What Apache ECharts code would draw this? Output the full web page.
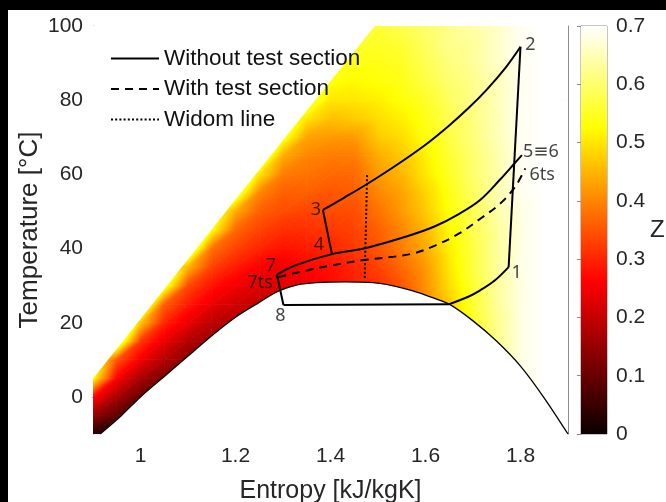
<!DOCTYPE html>
<html><head><meta charset="utf-8">
<script src="https://cdn.jsdelivr.net/npm/echarts@6/dist/echarts.min.js"></script>
<style>
html,body{margin:0;padding:0;background:#000;}
#wrap{position:relative;width:666px;height:502px;background:#000;overflow:hidden}
#chart{position:absolute;left:8px;top:10px;width:658px;height:492px;background:#fff}
</style></head><body><div id="wrap"><div id="chart"></div></div>
<script>
// ---------- data ----------
const xTicks = [1, 1.2, 1.4, 1.6, 1.8];
const yTicks = [0, 20, 40, 60, 80, 100];
const zTicks = [0, 0.1, 0.2, 0.3, 0.4, 0.5, 0.6, 0.7];

// Z field samples: entropy columns x temperature rows (-10 ... 100 step 5)
const sCols = [0.90,0.95,1.00,1.05,1.10,1.15,1.20,1.25,1.30,1.35,1.40,1.45,1.50,1.55,1.60,1.65,1.70,1.75,1.80,1.85,1.90];
const tRows = [-10,-5,0,5,10,15,20,25,30,35,40,45,50,55,60,65,70,75,80,85,90,95,100];
const zCols = [
 [.03,.15,.27,.53,.56,.56,.56,.56,.56,.56,.56,.56,.56,.56,.56,.56,.56,.56,.56,.56,.56,.56,.56], // 0.90
 [.07,.09,.17,.26,.35,.64,.56,.56,.56,.56,.56,.56,.56,.56,.56,.56,.56,.56,.56,.56,.56,.56,.56], // 0.95
 [.10,.10,.10,.17,.25,.32,.47,.66,.56,.56,.56,.56,.56,.56,.56,.56,.56,.56,.56,.56,.56,.56,.56], // 1.00
 [.12,.12,.12,.12,.18,.24,.30,.36,.57,.56,.56,.56,.56,.56,.56,.56,.56,.56,.56,.56,.56,.56,.56], // 1.05
 [.14,.14,.14,.14,.14,.18,.24,.29,.34,.45,.64,.56,.56,.56,.56,.56,.56,.56,.56,.56,.56,.56,.56], // 1.10
 [.16,.16,.16,.16,.16,.16,.19,.24,.28,.33,.38,.53,.58,.56,.56,.56,.56,.56,.56,.56,.56,.56,.56], // 1.15
 [.18,.18,.18,.18,.18,.18,.18,.21,.25,.29,.33,.37,.44,.59,.56,.56,.56,.56,.56,.56,.56,.56,.56], // 1.20
 [.20,.20,.20,.20,.20,.20,.20,.20,.23,.26,.30,.33,.36,.40,.50,.62,.56,.56,.56,.56,.56,.56,.56], // 1.25
 [.22,.22,.22,.22,.22,.22,.22,.22,.23,.25,.28,.31,.34,.36,.39,.44,.55,.56,.56,.56,.56,.56,.56], // 1.30
 [.25,.25,.25,.25,.25,.25,.25,.25,.25,.27,.29,.31,.33,.36,.38,.40,.43,.50,.58,.56,.56,.56,.56], // 1.35
 [.27,.27,.27,.27,.27,.27,.27,.27,.27,.28,.30,.32,.34,.35,.37,.39,.42,.46,.50,.53,.56,.56,.56], // 1.40
 [.29,.29,.29,.29,.29,.29,.29,.29,.29,.30,.32,.33,.34,.36,.37,.39,.42,.47,.50,.52,.54,.56,.56], // 1.45
 [.31,.31,.31,.31,.31,.31,.31,.31,.31,.33,.35,.36,.38,.40,.42,.44,.47,.49,.51,.53,.54,.55,.56], // 1.50
 [.34,.34,.34,.34,.34,.34,.34,.34,.35,.37,.39,.40,.42,.43,.45,.47,.49,.51,.53,.54,.55,.56,.58], // 1.55
 [.40,.40,.40,.40,.40,.40,.40,.40,.41,.42,.44,.45,.47,.48,.50,.51,.53,.54,.55,.57,.58,.59,.60], // 1.60
 [.47,.47,.47,.47,.47,.47,.47,.47,.49,.50,.51,.52,.53,.54,.55,.56,.57,.58,.59,.60,.61,.62,.62], // 1.65
 [.55,.55,.55,.55,.55,.55,.55,.56,.56,.57,.57,.58,.58,.59,.60,.60,.61,.61,.62,.62,.63,.63,.64], // 1.70
 [.62,.62,.62,.62,.62,.62,.62,.63,.63,.63,.63,.63,.64,.64,.64,.64,.65,.65,.65,.65,.66,.66,.66], // 1.75
 [.68,.68,.68,.68,.68,.68,.68,.68,.68,.68,.68,.68,.68,.69,.69,.69,.69,.69,.69,.69,.69,.69,.69], // 1.80
 [.70,.70,.70,.70,.70,.70,.70,.70,.70,.70,.70,.70,.70,.70,.70,.70,.70,.70,.70,.70,.70,.70,.70], // 1.85
 [.70,.70,.70,.70,.70,.70,.70,.70,.70,.70,.70,.70,.70,.70,.70,.70,.70,.70,.70,.70,.70,.70,.70]  // 1.90
];

// upper-left limit of the coloured region
const topS = [0.90, 1.20, 1.492];
const topT = [5.1, 53.4, 100];

// saturation dome
const satS = [0.915,0.96,1.00,1.05,1.10,1.15,1.20,1.25,1.29,1.33,1.37,1.43,1.49,1.53,1.57,1.61,1.65,1.70,1.75,1.80,1.85,1.90];
const satT = [-10,-5,0,5.5,11,16.5,21.5,25.5,28.5,30.2,30.8,31.0,30.8,30.0,28.7,27.0,25.0,20.5,15.0,8.3,-0.3,-10];

// cycle without test section
const lowS = [1.287,1.329,1.403,1.470,1.568,1.62,1.67,1.715,1.757,1.789,1.803];
const lowT = [33.0,35.6,38.5,40.0,43.6,46.0,49.3,53.1,58.6,63.2,65.2];
const highS = [1.384,1.43,1.477,1.54,1.60,1.65,1.69,1.73,1.77,1.80];
const highT = [50.4,53.8,57.4,62.6,68.0,73.2,77.8,83.0,89.0,94.4];
const evapS = [1.301,1.65];
const evapT = [24.8,25.0];
const superS = [1.65,1.69,1.716,1.745,1.775];
const superT = [25.0,27.0,28.8,31.3,35.0];
const compS = [1.775,1.80];
const compT = [35.0,94.4];
const valve34S = [1.384,1.403];
const valve34T = [50.4,38.5];
const valve78S = [1.287,1.301];
const valve78T = [33.0,24.8];

// cycle with test section
const tsS = [1.29,1.329,1.40,1.47,1.568,1.62,1.67,1.716,1.758,1.789,1.81];
const tsT = [32.3,33.5,35.4,36.9,38.5,40.8,44.0,48.1,52.2,56.7,61.6];

// Widom line
const widomS = [1.477,1.472];
const widomT = [59.8,32.0];

// state point labels
const ptNames = ['1','2','3','4','5≡6','6ts','7','7ts','8'];
const ptS = [1.775,1.80,1.384,1.403,1.803,1.81,1.287,1.29,1.301];
const ptT = [35.0,94.4,50.4,38.5,65.2,61.6,33.0,32.3,24.8];

// colormap (hot) breakpoints in Z
const hotZ = [0, 0.2625, 0.525, 0.7];
const hotRGB = [[10,0,0],[255,0,0],[255,255,0],[255,255,255]];

// ---------- helpers ----------
function hot(z){
  if (z <= hotZ[0]) return 'rgb(' + hotRGB[0].join(',') + ')';
  for (let k = 1; k < hotZ.length; k++){
    if (z <= hotZ[k]){
      const f = (z - hotZ[k-1]) / (hotZ[k] - hotZ[k-1]);
      const a = hotRGB[k-1], b = hotRGB[k];
      return 'rgb(' + [0,1,2].map(c => Math.round(a[c] + (b[c]-a[c])*f)).join(',') + ')';
    }
  }
  return 'rgb(' + hotRGB[hotRGB.length-1].join(',') + ')';
}
function triGrad(P, Z){
  const x0=P[0][0], y0=P[0][1];
  const dx1=P[1][0]-x0, dy1=P[1][1]-y0, dz1=Z[1]-Z[0];
  const dx2=P[2][0]-x0, dy2=P[2][1]-y0, dz2=Z[2]-Z[0];
  const det = dx1*dy2 - dx2*dy1;
  const zmin=Math.min(Z[0],Z[1],Z[2]), zmax=Math.max(Z[0],Z[1],Z[2]);
  if (Math.abs(det) < 1e-9 || zmax - zmin < 1e-6) return hot(Z[0]);
  const a=(dz1*dy2 - dz2*dy1)/det, b=(dx1*dz2 - dx2*dz1)/det;
  const g2=a*a+b*b;
  if (g2 < 1e-14) return hot(Z[0]);
  const sx=x0+(zmin-Z[0])*a/g2, sy=y0+(zmin-Z[0])*b/g2;
  const ex=x0+(zmax-Z[0])*a/g2, ey=y0+(zmax-Z[0])*b/g2;
  const stops=[{offset:0,color:hot(zmin)}];
  hotZ.forEach(bp => { if (bp > zmin && bp < zmax) stops.push({offset:(bp-zmin)/(zmax-zmin), color:hot(bp)}); });
  stops.push({offset:1,color:hot(zmax)});
  return new echarts.graphic.LinearGradient(sx,sy,ex,ey,stops,true);
}
const zAt = (i,j) => zCols[i][j];
const cells = [];
for (let i = 0; i < sCols.length-1; i++){
  for (let j = 0; j < tRows.length-1; j++){
    cells.push([sCols[i], tRows[j], sCols[i+1], tRows[j+1], zAt(i,j), zAt(i+1,j), zAt(i,j+1), zAt(i+1,j+1)]);
  }
}
const zip = (a,b) => a.map((v,k) => [v, b[k]]);

// ---------- chart ----------
const chart = echarts.init(document.getElementById('chart'), null, {renderer:'canvas'});
const AX = '#8c8c8c', TXT = '#262626', FONT = 'Liberation Sans, Arial, sans-serif';
const tickFmt = v => String(+(+v).toFixed(2));

const lineBase = (name, data, type, smooth) => ({
  type:'line', name, data, xAxisIndex:0, yAxisIndex:0, symbol:'none', smooth: smooth ? 0.35 : false,
  lineStyle:{color:'#000', width:2, type: type || 'solid'}, itemStyle:{color:'#000'}, z:5, silent:true, animation:false
});

const labelOffsets = [[8,6],[10,-2],[-7,0],[-13,-9],[19,-3],[17,6],[-6,-9],[-18,6],[-3,11]];

chart.setOption({
  backgroundColor:'#fff',
  animation:false,
  textStyle:{fontFamily:FONT},
  grid:[
    {left:85, width:475, top:16, height:408, outerBoundsMode:'none', containLabel:false},
    {left:573, width:26, top:16, height:408, show:true, borderColor:AX, borderWidth:1, backgroundColor:'transparent', outerBoundsMode:'none', containLabel:false}
  ],
  legend:{
    orient:'vertical', left:97, top:32, itemWidth:48, itemHeight:2, itemGap:7.5,
    itemStyle:{opacity:0},
    textStyle:{fontSize:22.5, color:'#111', fontFamily:FONT, lineHeight:22},
    data:['Without test section','With test section','Widom line'],
    selectedMode:false
  },
  xAxis:[
    {gridIndex:0, type:'value', min:0.9, max:1.9, position:'bottom',
     axisLine:{lineStyle:{color:AX, width:1}},
     axisTick:{inside:true, length:5, customValues:xTicks, lineStyle:{color:AX}},
     axisLabel:{customValues:xTicks, formatter:tickFmt, fontSize:21, color:TXT, margin:12, fontFamily:FONT},
     splitLine:{show:false},
     name:'Entropy [kJ/kgK]', nameLocation:'middle', nameGap:45,
     nameTextStyle:{fontSize:25, color:TXT, fontFamily:FONT}},
    {gridIndex:0, type:'value', min:0.9, max:1.9, position:'top',
     axisLine:{lineStyle:{color:AX, width:1}},
     axisTick:{inside:true, length:5, customValues:xTicks, lineStyle:{color:AX}},
     axisLabel:{show:false}, splitLine:{show:false}},
    {gridIndex:1, type:'value', min:0, max:1, show:false}
  ],
  yAxis:[
    {gridIndex:0, type:'value', min:-10, max:100, position:'left',
     axisLine:{show:true, lineStyle:{color:AX, width:1}},
     axisTick:{show:true, inside:true, length:5, customValues:yTicks, lineStyle:{color:AX}},
     axisLabel:{customValues:yTicks, formatter:tickFmt, fontSize:21, color:TXT, margin:10, fontFamily:FONT},
     splitLine:{show:false},
     name:'Temperature [°C]', nameLocation:'middle', nameGap:50, nameMoveOverlap:false,
     nameTextStyle:{fontSize:26, color:TXT, fontFamily:FONT}},
    {gridIndex:0, type:'value', min:-10, max:100, position:'right',
     axisLine:{show:true, lineStyle:{color:AX, width:1}},
     axisTick:{show:true, inside:true, length:5, customValues:yTicks, lineStyle:{color:AX}},
     axisLabel:{show:false}, splitLine:{show:false}},
    {gridIndex:1, type:'value', min:0, max:0.7, position:'right',
     axisLine:{show:true, lineStyle:{color:AX, width:1}},
     axisTick:{show:true, inside:true, length:4, customValues:zTicks, lineStyle:{color:AX}},
     axisLabel:{customValues:zTicks, formatter:tickFmt, fontSize:21, color:TXT, margin:9, fontFamily:FONT},
     splitLine:{show:false},
     name:'Z', nameLocation:'middle', nameGap:43, nameRotate:0,
     nameTextStyle:{fontSize:24, color:TXT, fontFamily:FONT}}
  ],
  series:[
    {type:'custom', name:'Zfield', xAxisIndex:0, yAxisIndex:0, clip:true, silent:true, z:1,
     encode:{x:[0,2], y:[1,3]}, data:cells,
     renderItem:function(params, api){
       const s0=api.value(0), t0=api.value(1), s1=api.value(2), t1=api.value(3);
       const z00=api.value(4), z10=api.value(5), z01=api.value(6), z11=api.value(7);
       const p00=api.coord([s0,t0]), p10=api.coord([s1,t0]), p01=api.coord([s0,t1]), p11=api.coord([s1,t1]);
       const f1=triGrad([p00,p10,p11],[z00,z10,z11]);
       const f2=triGrad([p00,p11,p01],[z00,z11,z01]);
       return {type:'group', children:[
         {type:'polygon', shape:{points:[p00,p10,p11]}, style:{fill:f1, stroke:f1, lineWidth:0.8}},
         {type:'polygon', shape:{points:[p00,p11,p01]}, style:{fill:f2, stroke:f2, lineWidth:0.8}}
       ]};
     }},
    {type:'custom', name:'maskTop', xAxisIndex:0, yAxisIndex:0, clip:true, silent:true, z:2,
     data:[[topS[0], topT[0]]],
     renderItem:function(params, api){
       const pts = topS.map((s,k) => api.coord([s, topT[k]]));
       pts.push(api.coord([0.9, 100]));
       pts.push(api.coord([0.85, 100]));
       pts.push(api.coord([0.85, topT[0]]));
       return {type:'polygon', shape:{points:pts}, style:{fill:'#fff', stroke:'#fff', lineWidth:1}};
     }},
    {type:'custom', name:'maskDome', xAxisIndex:0, yAxisIndex:0, clip:true, silent:true, z:2,
     data:[[satS[0], satT[0]]],
     renderItem:function(params, api){
       const pts = satS.map((s,k) => api.coord([s, satT[k]]));
       return {type:'polygon', shape:{points:pts}, style:{fill:'#fff', stroke:'#fff', lineWidth:0.5}};
     }},
    {type:'line', name:'sat', data:zip(satS,satT), xAxisIndex:0, yAxisIndex:0, symbol:'none',
     smooth:0.3, lineStyle:{color:'#000', width:1.3}, z:4, silent:true},
    lineBase('Without test section', zip(lowS,lowT), 'solid', true),
    lineBase('Without test section', zip(highS,highT), 'solid', true),
    lineBase('Without test section', zip(evapS,evapT), 'solid', false),
    lineBase('Without test section', zip(superS,superT), 'solid', true),
    lineBase('Without test section', zip(compS,compT), 'solid', false),
    lineBase('Without test section', zip(valve34S,valve34T), 'solid', false),
    lineBase('Without test section', zip(valve78S,valve78T), 'solid', false),
    lineBase('With test section', zip(tsS,tsT), [8,6], true),
    lineBase('Widom line', zip(widomS,widomT), [2,2.2], false),
    {type:'scatter', name:'points', xAxisIndex:0, yAxisIndex:0, symbolSize:0, z:6, silent:true,
     data: ptNames.map((n,k) => ({value:[ptS[k], ptT[k], n],
       label:{show:true, formatter:n, offset:labelOffsets[k], position:'inside', align:'center', verticalAlign:'middle',
              fontSize:18, color:'#111', fontFamily:'Noto Sans, DejaVu Sans, sans-serif'}}))},
    {type:'custom', name:'colorbar', xAxisIndex:2, yAxisIndex:2, silent:true, z:1,
     data:[[0, zTicks[0], 1, zTicks[zTicks.length-1]]],
     renderItem:function(params, api){
       const a = api.coord([api.value(0), api.value(3)]), b = api.coord([api.value(2), api.value(1)]);
       const zmax = api.value(3);
       const stops = hotZ.map(z => ({offset: 1 - z/zmax, color: hot(z)}));
       stops.reverse();
       return {type:'rect', shape:{x:a[0], y:a[1], width:b[0]-a[0], height:b[1]-a[1]},
               style:{fill:new echarts.graphic.LinearGradient(0,0,0,1,stops)}};
     }}
  ]
});
</script>
</body></html>
